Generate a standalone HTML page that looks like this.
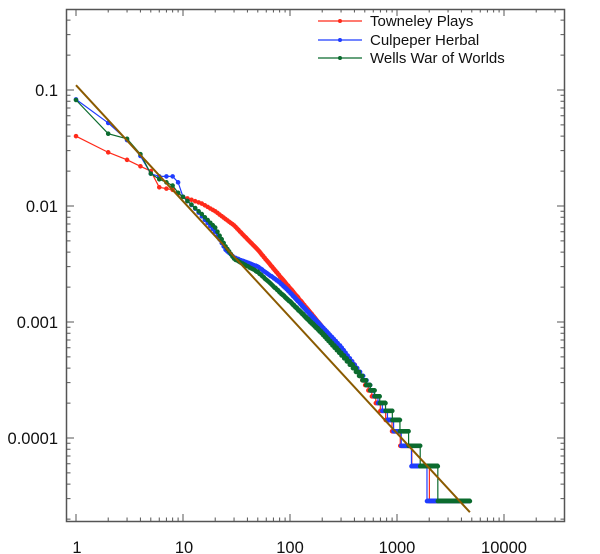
<!DOCTYPE html>
<html><head><meta charset="utf-8"><style>
html,body{margin:0;padding:0;background:#fff;}
svg{display:block;font-family:"Liberation Sans",sans-serif;}
</style></head><body>
<svg id="s" width="600" height="554" viewBox="0 0 600 554">
<g id="data"></g>
<g id="ticks" stroke="#555" stroke-width="1"></g>
<rect x="66.5" y="9.5" width="498" height="512" fill="none" stroke="#555" stroke-width="1.5"/>
<g font-size="16.5" fill="#111" text-anchor="end">
<text x="58" y="96">0.1</text>
<text x="58" y="212">0.01</text>
<text x="58" y="328">0.001</text>
<text x="58" y="444">0.0001</text>
</g>
<g font-size="16.5" fill="#111" text-anchor="middle">
<text x="77" y="553">1</text>
<text x="184" y="553">10</text>
<text x="290" y="553">100</text>
<text x="397" y="553">1000</text>
<text x="504" y="553">10000</text>
</g>
<g font-size="15" fill="#111">
<line x1="318" y1="21" x2="362" y2="21" stroke="#ff2a1a" stroke-width="1.3"/><circle cx="340" cy="21" r="2" fill="#ff2a1a"/>
<text x="370" y="26">Towneley Plays</text>
<line x1="318" y1="40" x2="362" y2="40" stroke="#1f3cff" stroke-width="1.3"/><circle cx="340" cy="40" r="2" fill="#1f3cff"/>
<text x="370" y="45">Culpeper Herbal</text>
<line x1="318" y1="58" x2="362" y2="58" stroke="#0b6b2e" stroke-width="1.3"/><circle cx="340" cy="58" r="2" fill="#0b6b2e"/>
<text x="370" y="63">Wells War of Worlds</text>
</g>
</svg>
<script>
var X0=76,DX=107,Y0=90,DY=116;
function px(r){return X0+DX*Math.log10(r);}
function py(p){return Y0-DY*(Math.log10(p)+1);}
var NS="http://www.w3.org/2000/svg";
function el(t,a,par){var e=document.createElementNS(NS,t);for(var k in a)e.setAttribute(k,a[k]);par.appendChild(e);return e;}
var tg=document.getElementById('ticks'),d="";
for(var e=0;e<5;e++)for(var m=1;m<10;m++){var v=m*Math.pow(10,e);var x=px(v);if(x<67||x>564)continue;var L=m==1?7:3.5;d+="M"+x+" 521V"+(521-L)+"M"+x+" 9V"+(9+L);}
for(var e=-5;e<0;e++)for(var m=1;m<10;m++){var v=m*Math.pow(10,e);var y=py(v);if(y<10||y>520)continue;var L=m==1?7:3.5;d+="M67 "+y+"H"+(67+L)+"M564 "+y+"H"+(564-L);}
el('path',{d:d,fill:'none'},tg);
var N=35000;
function interp(a,r){var lr=Math.log10(r);for(var i=0;i<a.length-1;i++){if(r<=a[i+1][0]){var l0=Math.log10(a[i][0]),l1=Math.log10(a[i+1][0]);var t=(lr-l0)/(l1-l0);return Math.pow(10,Math.log10(a[i][1])+t*(Math.log10(a[i+1][1])-Math.log10(a[i][1])));}}return a[a.length-1][1];}
var S=[
{c:"#ff2a1a",end:4750,a:[[1,0.040],[2,0.029],[3,0.025],[4,0.022],[5,0.020],[6,0.0145],[8,0.0138],[10,0.012],[15,0.0105],[20,0.009],[30,0.0068],[50,0.0042],[80,0.0025],[120,0.0016],[200,0.0009],[400,0.00042],[1000,0.00011],[2000,0.000043],[4800,0.00002]]},
{c:"#1f3cff",end:4750,a:[[1,0.083],[2,0.052],[3,0.037],[4,0.027],[5,0.019],[6,0.018],[7,0.018],[8,0.018],[9,0.016],[10,0.012],[13,0.0095],[20,0.006],[25,0.0042],[30,0.0036],[50,0.003],[80,0.0022],[100,0.0018],[150,0.0012],[300,0.0006],[600,0.00025],[1000,0.000115],[1900,0.000043],[4800,0.000018]]},
{c:"#0b6b2e",end:4800,a:[[1,0.082],[2,0.042],[3,0.038],[4,0.028],[5,0.019],[6,0.017],[7,0.016],[8,0.015],[9,0.013],[10,0.012],[15,0.0085],[20,0.0065],[25,0.0045],[30,0.0035],[50,0.0027],[100,0.0015],[200,0.0008],[400,0.0004],[1000,0.00014],[2400,0.000043],[4800,0.00002]]}
];
var g=document.getElementById('data');
S.forEach(function(s){var ld="",md="";for(var r=1;r<=s.end;r++){var f=interp(s.a,r);var p=r<=10?f:Math.max(1,Math.round(f*N))/N;var x=px(r).toFixed(2),y=py(p).toFixed(2);ld+=(r==1?"M":"L")+x+" "+y;md+="M"+x+" "+y+"h0";}
el('path',{d:ld,fill:'none',stroke:s.c,'stroke-width':1.2},g);
el('path',{d:md,fill:'none',stroke:s.c,'stroke-width':4.6,'stroke-linecap':'round'},g);});
el('line',{x1:px(1),y1:py(0.11),x2:px(4800),y2:py(0.11/4800),stroke:'#8a5a00','stroke-width':2},g);
</script>
</body></html>
